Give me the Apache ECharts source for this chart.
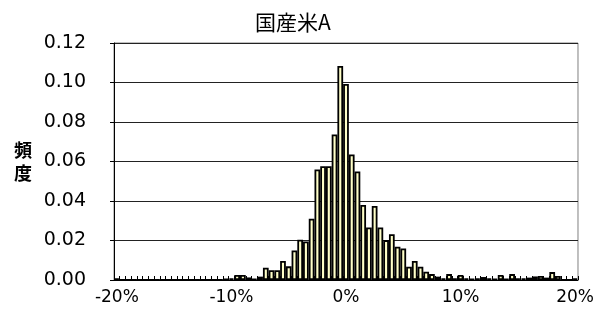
<!DOCTYPE html>
<html>
<head>
<meta charset="utf-8">
<script src="https://cdn.jsdelivr.net/npm/echarts@6/dist/echarts.min.js"></script>
<style>
html,body{margin:0;padding:0;background:#fff;}
#c{width:597px;height:325px;}
</style>
</head>
<body>
<div id="c"></div>
<script>
// Bin centers (%), 0.5% bins
var binCenters = [
 -20,-19.5,-19,-18.5,-18,-17.5,-17,-16.5,-16,-15.5,
 -15,-14.5,-14,-13.5,-13,-12.5,-12,-11.5,-11,-10.5,
 -10,-9.5,-9,-8.5,-8,-7.5,-7,-6.5,-6,-5.5,
 -5,-4.5,-4,-3.5,-3,-2.5,-2,-1.5,-1,-0.5,
 0,0.5,1,1.5,2,2.5,3,3.5,4,4.5,
 5,5.5,6,6.5,7,7.5,8,8.5,9,9.5,
 10,10.5,11,11.5,12,12.5,13,13.5,14,14.5,
 15,15.5,16,16.5,17,17.5,18,18.5,19,19.5,
 20
];
// Frequency per bin
var freq = [
 0.0008,0,0,0,0,0,0,0,0,0,
 0,0,0,0,0,0,0,0,0,0.0005,
 0.0008,0.0025,0.0025,0.0013,0.0005,0.0017,0.0062,0.0050,0.0050,0.0096,
 0.0069,0.0150,0.0204,0.0195,0.0310,0.0560,0.0576,0.0576,0.0737,0.1084,
 0.0993,0.0636,0.0550,0.0380,0.0266,0.0375,0.0266,0.0202,0.0232,0.0168,
 0.0160,0.0067,0.0096,0.0067,0.0042,0.0030,0.0017,0.0008,0.0030,0.0008,
 0.0025,0.0008,0.0005,0.0008,0.0015,0.0008,0.0005,0.0025,0.0005,0.0030,
 0.0008,0.0008,0.0012,0.0018,0.0020,0.0012,0.0040,0.0020,0,0,
 0.0008
];
var titleText = '国産米A';
var yName = '頻度';
var yMin = 0, yMax = 0.12, yStep = 0.02;

var chart = echarts.init(document.getElementById('c'));
chart.setOption({
  animation: false,
  backgroundColor: '#fff',
  title: {
    text: titleText,
    left: 250, top: 7,
    textStyle: {fontFamily: 'Noto Sans CJK JP', fontSize: 21, fontWeight: 'normal', color: '#000'}
  },
  grid: {
    left: 114, right: 16, top: 43, bottom: 45,
    show: true, borderColor: '#808080', borderWidth: 1, backgroundColor: '#fff'
  },
  xAxis: {
    type: 'category',
    data: binCenters,
    boundaryGap: true,
    axisLine: {lineStyle: {color: '#000', width: 1}},
    axisTick: {show: true, inside: true, length: 4, interval: 0, lineStyle: {color: '#000'}},
    axisLabel: {
      interval: function (idx, val) { return Number(val) % 10 === 0; },
      formatter: function (v) { return v + '%'; },
      fontFamily: 'DejaVu Sans', fontSize: 17, color: '#000', margin: 9
    },
    splitLine: {show: false}
  },
  yAxis: {
    type: 'value',
    min: yMin, max: yMax, interval: yStep,
    name: yName.split('').join('\n'),
    nameLocation: 'middle',
    nameRotate: 0,
    nameGap: 82,
    nameTextStyle: {fontFamily: 'Noto Sans CJK JP', fontSize: 18, fontWeight: 'bold', color: '#000', lineHeight: 23},
    axisLine: {show: true, lineStyle: {color: '#000', width: 1}},
    axisTick: {show: true, inside: false, length: 4, lineStyle: {color: '#000'}},
    axisLabel: {
      formatter: function (v) { return v.toFixed(2); },
      fontFamily: 'DejaVu Sans', fontSize: 19, color: '#000', margin: 28
    },
    splitLine: {show: true, lineStyle: {color: '#222', width: 1}}
  },
  series: [{
    type: 'bar',
    data: freq,
    barCategoryGap: '0%',
    itemStyle: {color: '#FFFFC8', borderColor: '#000', borderWidth: 1.8}
  }]
});
</script>
</body>
</html>
